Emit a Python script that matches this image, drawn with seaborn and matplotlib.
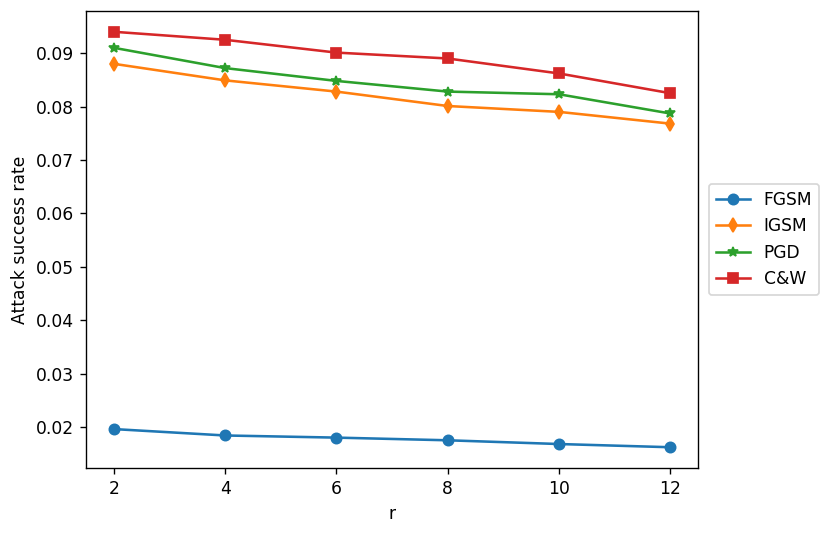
import pandas as pd
import seaborn as sns
import matplotlib.pyplot as plt

# values
r_values = [2, 4, 6, 8, 10, 12]
fgsm = [0.0196, 0.0184, 0.0180, 0.0175, 0.0168, 0.0162]
igsm = [0.0880, 0.0849, 0.0828, 0.0801, 0.0790, 0.0768]
pgd = [0.0910, 0.0872, 0.0848, 0.0828, 0.0823, 0.0787]
cw = [0.0940, 0.0925, 0.0901, 0.0890, 0.0862, 0.0825]

methods = ["FGSM", "IGSM", "PGD", "C&W"]
series = [fgsm, igsm, pgd, cw]


def make_plot():
    rows = []
    for name, vals in zip(methods, series):
        for r, v in zip(r_values, vals):
            rows.append({"r": r, "rate": v, "method": name})
    df = pd.DataFrame(rows)

    dpi = 123
    fig = plt.figure(figsize=(830 / dpi, 533 / dpi), dpi=dpi)
    ax = fig.add_axes([86 / 830, 1 - 468 / 533, 612 / 830, 457 / 533])

    palette = {"FGSM": "#1f77b4", "IGSM": "#ff7f0e", "PGD": "#2ca02c", "C&W": "#d62728"}
    markers = {"FGSM": "o", "IGSM": "d", "PGD": "*", "C&W": "s"}
    sns.lineplot(data=df, x="r", y="rate", hue="method", style="method",
                 hue_order=methods, style_order=methods,
                 palette=palette, markers=markers, dashes=False,
                 markersize=6, linewidth=1.5, ax=ax)

    # matplotlib-style marker edges (same colour as the line)
    for line in ax.lines:
        line.set_markeredgecolor(line.get_color())
        line.set_markeredgewidth(1.0)

    ax.set_xticks(r_values)
    ax.set_xlabel("r")
    ax.set_ylabel("Attack success rate")
    leg = ax.legend(loc="center left", bbox_to_anchor=(1.004, 0.5), fontsize=10)
    for h in leg.legend_handles:
        h.set_markeredgecolor(h.get_color())
        h.set_markeredgewidth(1.0)

    fig.savefig("out.png", dpi=dpi)
    plt.close(fig)


if __name__ == "__main__":
    make_plot()
